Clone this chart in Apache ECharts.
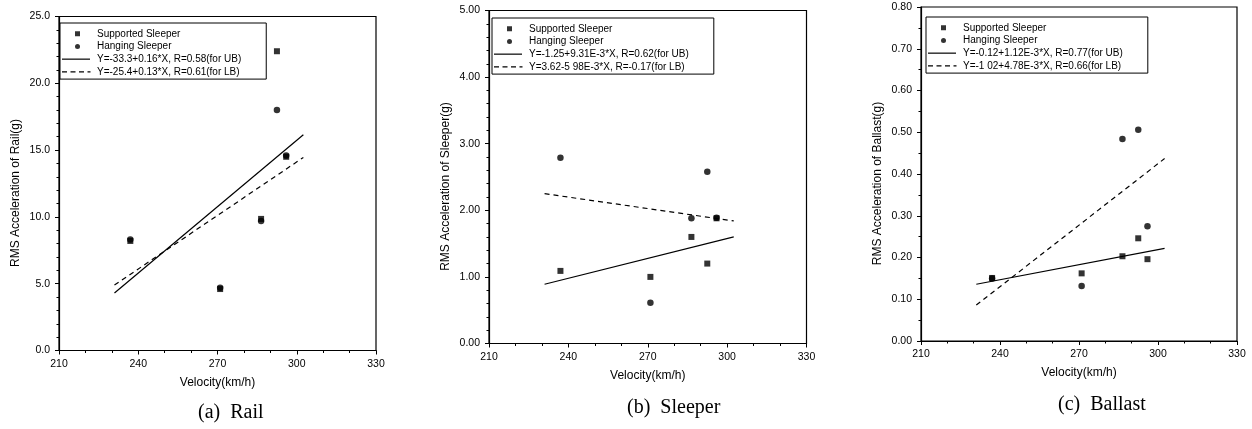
<!DOCTYPE html>
<html>
<head>
<meta charset="utf-8">
<script src="https://cdn.jsdelivr.net/npm/echarts@6/dist/echarts.min.js"></script>
<style>
  html, body { margin: 0; padding: 0; background: #fff; }
  #chart { width: 1252px; height: 429px; }
</style>
</head>
<body>
<div id="chart"></div>
<script>
// Measured train speeds (km/h) shared by all three panels
const velocity = [237, 271, 286.5, 292.5, 296];

// RMS accelerations (g) for supported and hanging sleepers
const railSupported = [8.2, 4.6, 9.85, 22.4, 14.5];
const railHanging = [8.3, 4.7, 9.7, 18.0, 14.6];
const sleeperSupported = [1.09, 1.0, 1.6, 1.2, 1.88];
const sleeperHanging = [2.79, 0.61, 1.88, 2.58, 1.89];
const ballastSupported = [0.151, 0.162, 0.203, 0.246, 0.196];
const ballastHanging = [0.150, 0.132, 0.484, 0.506, 0.275];

// Regression lines (end points over the fitted speed range)
const fitVelocity = [231, 302.5];
const railFitUB = [4.3, 16.15];
const railFitLB = [4.9, 14.45];
const sleeperFitUB = [0.89, 1.6];
const sleeperFitLB = [2.25, 1.84];
const ballastFitUB = [0.136, 0.222];
const ballastFitLB = [0.086, 0.437];

// Text
const supportedName = 'Supported Sleeper';
const hangingName = 'Hanging Sleeper';
const railFitNames = ['Y=-33.3+0.16*X, R=0.58(for UB)', 'Y=-25.4+0.13*X, R=0.61(for LB)'];
const sleeperFitNames = ['Y=-1.25+9.31E-3*X, R=0.62(for UB)', 'Y=3.62-5 98E-3*X, R=-0.17(for LB)'];
const ballastFitNames = ['Y=-0.12+1.12E-3*X, R=0.77(for UB)', 'Y=-1 02+4.78E-3*X, R=0.66(for LB)'];
const yAxisNames = ['RMS Acceleration of Rail(g)', 'RMS Acceleration of Sleeper(g)', 'RMS Acceleration of Ballast(g)'];
const xAxisName = 'Velocity(km/h)';
const captions = ['(a)  Rail', '(b)  Sleeper', '(c)  Ballast'];

const SANS = '"Liberation Sans", Arial, Helvetica, sans-serif';
const SERIF = '"Liberation Serif", "Times New Roman", serif';

// Legend icons on a 30x6 box (the leading moves pin the box size)
const BOX = 'path://M0 0M30 6';
const iconSquare = BOX + 'M13 0.5h5v5h-5z';
const iconCircle = BOX + 'M13 3a2.5 2.5 0 1 0 5 0a2.5 2.5 0 1 0 -5 0z';
const iconSolid = BOX + 'M0 2.4h28v1.2h-28z';
const iconDashed = BOX + 'M0 2.4h5v1.2h-5zM8.5 2.4h5v1.2h-5zM17 2.4h5v1.2h-5zM25.5 2.4h3v1.2h-3z';

const panels = [
  { grid: { left: 59, top: 16.5, width: 317, height: 334 }, yMax: 25, yStep: 5, minor: 5, digits: 1,
    sup: railSupported, hang: railHanging, ub: railFitUB, lb: railFitLB, fitNames: railFitNames,
    legendPos: { left: 60, top: 23 }, caption: { x: 198, y: 403 } },
  { grid: { left: 489, top: 10.5, width: 317.5, height: 333 }, yMax: 5, yStep: 1, minor: 5, digits: 2,
    sup: sleeperSupported, hang: sleeperHanging, ub: sleeperFitUB, lb: sleeperFitLB, fitNames: sleeperFitNames,
    legendPos: { left: 492, top: 18 }, caption: { x: 627, y: 398 } },
  { grid: { left: 921, top: 7, width: 316, height: 334 }, yMax: 0.8, yStep: 0.1, minor: 2, digits: 2,
    sup: ballastSupported, hang: ballastHanging, ub: ballastFitUB, lb: ballastFitLB, fitNames: ballastFitNames,
    legendPos: { left: 926, top: 17 }, caption: { x: 1058, y: 395 } }
];

const grids = [], xAxes = [], yAxes = [], legends = [], series = [], graphics = [];

panels.forEach((p, i) => {
  grids.push(Object.assign({ show: true, borderColor: '#000', borderWidth: 1.2, backgroundColor: 'transparent' }, p.grid));

  xAxes.push({
    gridIndex: i, type: 'value', min: 210, max: 330, interval: 30,
    name: xAxisName, nameLocation: 'middle', nameGap: 26,
    nameTextStyle: { fontFamily: SANS, fontSize: 12, color: '#000' },
    axisLine: { onZero: false, lineStyle: { color: '#000', width: 1.2 } },
    axisTick: { inside: false, length: 4, lineStyle: { color: '#000' } },
    minorTick: { show: true, splitNumber: 3, length: 2.5, lineStyle: { color: '#000' } },
    splitLine: { show: false },
    axisLabel: { fontFamily: SANS, fontSize: 10.5, color: '#000', margin: 8 }
  });

  yAxes.push({
    gridIndex: i, type: 'value', min: 0, max: p.yMax, interval: p.yStep,
    name: yAxisNames[i], nameLocation: 'middle', nameGap: 37, nameRotate: 90,
    nameTextStyle: { fontFamily: SANS, fontSize: 12, color: '#000', padding: [0, 19, 0, 0] },
    axisLine: { onZero: false, lineStyle: { color: '#000', width: 1.2 } },
    axisTick: { inside: false, length: 4, lineStyle: { color: '#000' } },
    minorTick: { show: true, splitNumber: p.minor, length: 2.5, lineStyle: { color: '#000' } },
    splitLine: { show: false },
    axisLabel: { fontFamily: SANS, fontSize: 10.5, color: '#000', margin: 9,
      formatter: v => v.toFixed(p.digits) }
  });

  const pts = vals => velocity.map((v, k) => [v, vals[k]]);
  const fit = vals => fitVelocity.map((v, k) => [v, vals[k]]);

  series.push(
    { name: supportedName, type: 'scatter', xAxisIndex: i, yAxisIndex: i, symbol: 'rect', symbolSize: 6,
      itemStyle: { color: '#000' }, data: pts(p.sup), z: 3 },
    { name: hangingName, type: 'scatter', xAxisIndex: i, yAxisIndex: i, symbol: 'circle', symbolSize: 6.5,
      itemStyle: { color: '#000' }, data: pts(p.hang), z: 4 },
    { name: p.fitNames[0], type: 'line', xAxisIndex: i, yAxisIndex: i, symbol: 'none',
      lineStyle: { color: '#000', width: 1.2, type: 'solid' }, itemStyle: { color: '#000' }, data: fit(p.ub) },
    { name: p.fitNames[1], type: 'line', xAxisIndex: i, yAxisIndex: i, symbol: 'none',
      lineStyle: { color: '#000', width: 1.2, type: [5, 4] }, itemStyle: { color: '#000' }, data: fit(p.lb) }
  );

  legends.push(Object.assign({
    orient: 'vertical', align: 'left', selectedMode: false,
    data: [
      { name: supportedName, icon: iconSquare },
      { name: hangingName, icon: iconCircle },
      { name: p.fitNames[0], icon: iconSolid },
      { name: p.fitNames[1], icon: iconDashed }
    ],
    itemWidth: 30, itemHeight: 6, itemGap: 1.2, symbolKeepAspect: false,
    itemStyle: { color: '#000', borderWidth: 0 },
    padding: [5, 25, 1.5, 2],
    borderColor: '#000', borderWidth: 1, backgroundColor: '#fff',
    textStyle: { fontFamily: SANS, fontSize: 10, color: '#000', lineHeight: 11.5 }
  }, p.legendPos));

  graphics.push({
    type: 'text', left: p.caption.x, top: p.caption.y,
    style: { text: captions[i], font: '20px ' + SERIF, fill: '#000', textAlign: 'center' }
  });
});

const chart = echarts.init(document.getElementById('chart'), null, { renderer: 'canvas' });
chart.setOption({
  animation: false,
  backgroundColor: '#fff',
  grid: grids,
  xAxis: xAxes,
  yAxis: yAxes,
  legend: legends,
  series: series,
  graphic: graphics
});
</script>
</body>
</html>
